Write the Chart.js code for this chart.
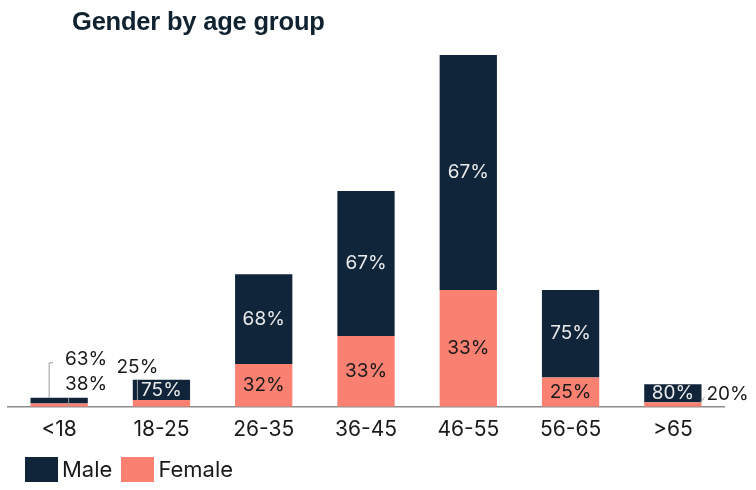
<!DOCTYPE html>
<html lang="en">
<head>
    <meta charset="UTF-8">
    <title>Gender by age group</title>
    <script src="https://cdn.jsdelivr.net/npm/chart.js"></script>
    <style>
        body { margin: 0; background: #fff; font-family: Inter, "Liberation Sans", sans-serif; }
        #wrap { position: relative; width: 756px; height: 490px; }
        #title { position: absolute; left: 72px; top: 7px; margin: 0; font: bold 25.5px "Liberation Sans", Arial, sans-serif; color: #10222f; letter-spacing: -0.2px; }
        #legend { position: absolute; left: 25px; top: 457px; height: 25px; display: flex; align-items: center; font-size: 22px; line-height: 25px; color: #1a1a1a; }
        #legend span.box { display: inline-block; width: 33px; height: 25px; margin-right: 4px; }
        #legend span.item { display: flex; align-items: center; margin-right: 9px; }
        canvas { position: absolute; left: 0; top: 0; }
    </style>
</head>
<body>
<div id="wrap">
    <canvas id="genderChart" width="756" height="490"></canvas>
    <h3 id="title">Gender by age group</h3>
    <div id="legend">
        <span class="item"><span class="box" style="background:#10243a"></span>Male</span>
        <span class="item"><span class="box" style="background:#fa8072"></span>Female</span>
    </div>
</div>

<script>
    // Data (counts per age group)
    const ageGroups = ["<18", "18-25", "26-35", "36-45", "46-55", "56-65", ">65"];
    const maleCounts = [5, 18, 80, 129, 209, 78, 16];
    const femaleCounts = [3, 6, 38, 63, 104, 26, 4];

    // where each percentage label goes
    const maleLabelPos = ["callout", "in", "in", "in", "in", "in", "in"];
    const femaleLabelPos = ["callout", "topLeft", "in", "in", "in", "in", "right"];

    const MALE_COLOR = "#10243a";
    const FEMALE_COLOR = "#fa8072";

    function pct(i, isMale) {
        const total = maleCounts[i] + femaleCounts[i];
        const v = isMale ? maleCounts[i] : femaleCounts[i];
        return Math.round(v / total * 100) + "%";
    }

    const percentLabels = {
        id: "percentLabels",
        afterDatasetsDraw(chart) {
            const ctx = chart.ctx;
            const femaleBars = chart.getDatasetMeta(0).data;
            const maleBars = chart.getDatasetMeta(1).data;
            ctx.save();
            ctx.font = "19px Inter, 'Liberation Sans', sans-serif";
            ctx.textBaseline = "middle";
            ctx.strokeStyle = "#9a9a9a";
            ctx.lineWidth = 1;

            ageGroups.forEach((g, i) => {
                const f = femaleBars[i];
                const m = maleBars[i];
                const half = m.width / 2;

                // male
                if (maleLabelPos[i] === "in") {
                    ctx.fillStyle = "#e9e9e9";
                    ctx.textAlign = "center";
                    ctx.fillText(pct(i, true), m.x, (m.y + m.base) / 2);
                } else if (maleLabelPos[i] === "callout") {
                    ctx.beginPath();
                    ctx.moveTo(m.x - 10, m.y);
                    ctx.lineTo(m.x - 10, m.y - 35);
                    ctx.lineTo(m.x - 6, m.y - 35);
                    ctx.moveTo(m.x + 9.5, m.y);
                    ctx.lineTo(m.x + 9.5, f.base);
                    ctx.stroke();
                    ctx.fillStyle = "#1a1a1a";
                    ctx.textAlign = "center";
                    ctx.fillText(pct(i, true), m.x + 27, m.y - 39);
                }

                // female
                const fp = femaleLabelPos[i];
                ctx.fillStyle = "#1a1a1a";
                if (fp === "in") {
                    ctx.textAlign = "center";
                    ctx.fillText(pct(i, false), f.x, (f.y + f.base) / 2);
                } else if (fp === "callout") {
                    ctx.textAlign = "center";
                    ctx.fillText(pct(i, false), m.x + 27, m.y - 14);
                } else if (fp === "topLeft") {
                    ctx.beginPath();
                    ctx.moveTo(m.x - 24, m.y);
                    ctx.lineTo(m.x - 24, f.y);
                    ctx.stroke();
                    ctx.textAlign = "center";
                    ctx.fillText(pct(i, false), m.x - 24, m.y - 13);
                } else if (fp === "right") {
                    ctx.beginPath();
                    ctx.moveTo(f.x + half - 2, f.y + 1);
                    ctx.lineTo(f.x + half + 3, f.y - 5);
                    ctx.stroke();
                    ctx.textAlign = "left";
                    ctx.fillText(pct(i, false), f.x + half + 5, f.y - 8);
                }
            });
            ctx.restore();
        }
    };

    new Chart(document.getElementById("genderChart"), {
        type: "bar",
        data: {
            labels: ageGroups,
            datasets: [
                { label: "Female", data: femaleCounts, backgroundColor: FEMALE_COLOR },
                { label: "Male", data: maleCounts, backgroundColor: MALE_COLOR }
            ]
        },
        options: {
            responsive: false,
            animation: false,
            layout: { padding: { left: 8, right: 32, top: 55, bottom: 38 } },
            datasets: { bar: { categoryPercentage: 0.8, barPercentage: 0.7 } },
            plugins: {
                legend: { display: false },
                tooltip: { enabled: false }
            },
            scales: {
                x: {
                    stacked: true,
                    grid: { display: false, drawTicks: false },
                    border: { display: true, color: "#8c8c8c", width: 1.5 },
                    ticks: {
                        color: "#1a1a1a",
                        padding: 10,
                        font: { family: "Inter, 'Liberation Sans', sans-serif", size: 21 }
                    }
                },
                y: {
                    stacked: true,
                    display: false,
                    min: 0,
                    max: 313
                }
            }
        },
        plugins: [percentLabels]
    });
</script>
</body>
</html>
